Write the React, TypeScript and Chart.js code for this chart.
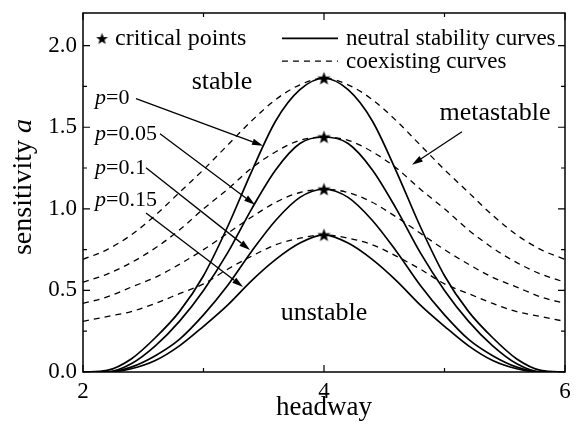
import React, { useEffect, useRef } from "react";
import { Chart, registerables } from "chart.js";

Chart.register(...registerables);

// ---------- data ----------
const headway = [2.0, 2.2, 2.4, 2.6, 2.8, 3.0, 3.2, 3.4, 3.6, 3.8, 4.0, 4.2, 4.4, 4.6, 4.8, 5.0, 5.2, 5.4, 5.6, 5.8, 6.0];

// neutral stability curves (solid)
const neutralP0 = [0, 0.01, 0.08, 0.21, 0.37, 0.59, 0.89, 1.23, 1.54, 1.73, 1.8, 1.73, 1.54, 1.23, 0.89, 0.59, 0.37, 0.21, 0.08, 0.01, 0];
const neutralP005 = [0, 0, 0.05, 0.16, 0.31, 0.5, 0.73, 1.0, 1.24, 1.4, 1.44, 1.4, 1.24, 1.0, 0.73, 0.5, 0.31, 0.16, 0.05, 0, 0];
const neutralP01 = [0, 0, 0.03, 0.1, 0.2, 0.35, 0.53, 0.74, 0.93, 1.07, 1.12, 1.07, 0.93, 0.74, 0.53, 0.35, 0.2, 0.1, 0.03, 0, 0];
const neutralP015 = [0, 0, 0.02, 0.07, 0.16, 0.28, 0.41, 0.56, 0.69, 0.79, 0.84, 0.79, 0.69, 0.56, 0.41, 0.28, 0.16, 0.07, 0.02, 0, 0];

// coexisting curves (dashed)
const coexistP0 = [0.69, 0.75, 0.84, 0.96, 1.1, 1.24, 1.39, 1.54, 1.67, 1.76, 1.8, 1.76, 1.67, 1.54, 1.39, 1.24, 1.1, 0.96, 0.84, 0.75, 0.69];
const coexistP005 = [0.55, 0.6, 0.67, 0.76, 0.87, 1.0, 1.12, 1.25, 1.35, 1.42, 1.44, 1.42, 1.35, 1.25, 1.12, 1.0, 0.87, 0.76, 0.67, 0.6, 0.55];
const coexistP01 = [0.42, 0.46, 0.52, 0.58, 0.66, 0.75, 0.85, 0.95, 1.04, 1.1, 1.12, 1.1, 1.04, 0.95, 0.85, 0.75, 0.66, 0.58, 0.52, 0.46, 0.42];
const coexistP015 = [0.31, 0.34, 0.37, 0.42, 0.48, 0.54, 0.63, 0.71, 0.78, 0.82, 0.84, 0.82, 0.78, 0.71, 0.63, 0.54, 0.48, 0.42, 0.37, 0.34, 0.31];

// critical points (stars)
const criticalH = [4, 4, 4, 4];
const criticalA = [1.8, 1.44, 1.12, 0.84];

// axis ticks
const xMajorTicks = [2, 4, 6];
const xMinorTicks = [3, 5];
const yMajorTicks = [0, 0.5, 1.0, 1.5, 2.0];
const yMinorTicks = [0.25, 0.75, 1.25, 1.75];
const yTickLabels = ["0.0", "0.5", "1.0", "1.5", "2.0"];
const xTickLabels = ["2", "4", "6"];

// p labels
const pLabels = ["0", "0.05", "0.1", "0.15"];

const FONT = "'Liberation Serif', 'Times New Roman', serif";

function makeStar(size: number, outer: number, inner: number) {
  const c = document.createElement("canvas");
  c.width = size;
  c.height = size;
  const g = c.getContext("2d")!;
  const cx = size / 2, cy = size / 2 + 0.5;
  g.beginPath();
  for (let i = 0; i < 10; i++) {
    const r = i % 2 === 0 ? outer : inner;
    const ang = -Math.PI / 2 + (i * Math.PI) / 5;
    const px = cx + r * Math.cos(ang);
    const py = cy + r * Math.sin(ang);
    if (i === 0) g.moveTo(px, py);
    else g.lineTo(px, py);
  }
  g.closePath();
  g.fillStyle = "#000";
  g.fill();
  return c;
}

function drawRich(ctx: CanvasRenderingContext2D, parts: [string, boolean][], x: number, y: number, size: number) {
  let cx = x;
  ctx.textBaseline = "middle";
  ctx.textAlign = "left";
  for (const [t, it] of parts) {
    ctx.font = `${it ? "italic " : ""}${size}px ${FONT}`;
    ctx.fillText(t, cx, y);
    cx += ctx.measureText(t).width;
  }
}

function arrow(ctx: CanvasRenderingContext2D, x1: number, y1: number, x2: number, y2: number) {
  const ang = Math.atan2(y2 - y1, x2 - x1);
  const len = 11, hw = 3.2;
  const bx = x2 - len * Math.cos(ang), by = y2 - len * Math.sin(ang);
  ctx.beginPath();
  ctx.moveTo(x1, y1);
  ctx.lineTo(bx, by);
  ctx.lineWidth = 1.3;
  ctx.stroke();
  ctx.beginPath();
  ctx.moveTo(x2, y2);
  ctx.lineTo(bx + hw * Math.sin(ang), by - hw * Math.cos(ang));
  ctx.lineTo(bx - hw * Math.sin(ang), by + hw * Math.cos(ang));
  ctx.closePath();
  ctx.fill();
}

export default function App() {
  const ref = useRef<HTMLCanvasElement>(null);

  useEffect(() => {
    const canvas = ref.current!;
    const star = makeStar(15, 7, 2.9);
    const legendStar = makeStar(13, 6.2, 2.6);

    const pts = (ys: number[]) => headway.map((h, i) => ({ x: h, y: ys[i] }));
    const solid = (ys: number[]) => ({
      type: "line" as const,
      data: pts(ys),
      borderColor: "#000",
      borderWidth: 1.7,
      pointRadius: 0,
      cubicInterpolationMode: "monotone" as const,
      fill: false,
    });
    const dashed = (ys: number[]) => ({
      type: "line" as const,
      data: pts(ys),
      borderColor: "#000",
      borderWidth: 1.3,
      borderDash: [6, 5],
      pointRadius: 0,
      cubicInterpolationMode: "monotone" as const,
      fill: false,
    });

    const annot = {
      id: "annot",
      afterDraw(chart: any) {
        const ctx: CanvasRenderingContext2D = chart.ctx;
        const xs = chart.scales.x, ys = chart.scales.y;
        const X = (v: number) => xs.getPixelForValue(v);
        const Y = (v: number) => ys.getPixelForValue(v);
        const { left, right, top, bottom } = chart.chartArea;
        ctx.save();
        ctx.strokeStyle = "#000";
        ctx.fillStyle = "#000";
        // frame
        ctx.lineWidth = 1.5;
        ctx.strokeRect(left, top, right - left, bottom - top);
        // ticks (inward, all four sides)
        ctx.lineWidth = 1.2;
        ctx.beginPath();
        const tx = (v: number, l: number) => {
          const p = X(v);
          ctx.moveTo(p, bottom); ctx.lineTo(p, bottom - l);
          ctx.moveTo(p, top); ctx.lineTo(p, top + l);
        };
        const ty = (v: number, l: number) => {
          const p = Y(v);
          ctx.moveTo(left, p); ctx.lineTo(left + l, p);
          ctx.moveTo(right, p); ctx.lineTo(right - l, p);
        };
        xMajorTicks.forEach((v) => tx(v, 7));
        xMinorTicks.forEach((v) => tx(v, 4));
        yMajorTicks.forEach((v) => ty(v, 7));
        yMinorTicks.forEach((v) => ty(v, 4));
        ctx.stroke();

        // tick labels
        ctx.font = `23px ${FONT}`;
        ctx.textAlign = "right";
        ctx.textBaseline = "middle";
        yMajorTicks.forEach((v, i) => ctx.fillText(yTickLabels[i], left - 6, Y(v)));
        ctx.textAlign = "center";
        ctx.textBaseline = "top";
        xMajorTicks.forEach((v, i) => ctx.fillText(xTickLabels[i], X(v), bottom + 8));

        // axis titles
        ctx.textAlign = "center";
        ctx.textBaseline = "middle";
        ctx.font = `27px ${FONT}`;
        ctx.fillText("headway", (left + right) / 2, 408);
        ctx.save();
        ctx.translate(24, 187);
        ctx.rotate(-Math.PI / 2);
        ctx.font = `28px ${FONT}`;
        const w1 = ctx.measureText("sensitivity ").width;
        ctx.font = `italic 28px ${FONT}`;
        const w2 = ctx.measureText("a").width;
        drawRich(ctx, [["sensitivity ", false], ["a", true]], -(w1 + w2) / 2, 0, 28);
        ctx.restore();

        // legend
        ctx.drawImage(legendStar, X(2.158) - 6.5, Y(2.04) - 7);
        drawRich(ctx, [["critical points", false]], X(2.266), Y(2.04), 24);
        ctx.lineWidth = 1.7;
        ctx.setLineDash([]);
        ctx.beginPath();
        ctx.moveTo(X(3.651), Y(2.045));
        ctx.lineTo(X(4.116), Y(2.045));
        ctx.stroke();
        ctx.lineWidth = 1.3;
        ctx.setLineDash([6, 5]);
        ctx.beginPath();
        ctx.moveTo(X(3.651), Y(1.905));
        ctx.lineTo(X(4.116), Y(1.905));
        ctx.stroke();
        ctx.setLineDash([]);
        drawRich(ctx, [["neutral stability curves", false]], X(4.183), Y(2.04), 23);
        drawRich(ctx, [["coexisting curves", false]], X(4.183), Y(1.9), 23);

        // region labels
        ctx.textAlign = "center";
        ctx.textBaseline = "middle";
        ctx.font = `26px ${FONT}`;
        ctx.fillText("stable", X(3.154), Y(1.779));
        ctx.fillText("metastable", X(5.419), Y(1.589));
        ctx.fillText("unstable", X(4.0), Y(0.362));

        // p labels
        const pLabelA = [1.675, 1.46, 1.25, 1.05];
        pLabels.forEach((t, i) => {
          drawRich(ctx, [["p", true], ["=" + t, false]], X(2.1), Y(pLabelA[i]), 22);
        });

        // arrows
        const arrows: number[][] = [
          [2.44, 1.675, 3.494, 1.387],
          [2.639, 1.46, 3.427, 1.025],
          [2.523, 1.252, 3.386, 0.748],
          [2.523, 0.975, 3.328, 0.521],
          [5.145, 1.472, 4.73, 1.27],
        ];
        arrows.forEach(([a, b, c, d]) => arrow(ctx, X(a), Y(b), X(c), Y(d)));
        ctx.restore();
      },
    };

    const chart = new Chart(canvas, {
      type: "line",
      data: {
        datasets: [
          solid(neutralP0),
          solid(neutralP005),
          solid(neutralP01),
          solid(neutralP015),
          dashed(coexistP0),
          dashed(coexistP005),
          dashed(coexistP01),
          dashed(coexistP015),
          {
            type: "scatter" as const,
            data: criticalH.map((h, i) => ({ x: h, y: criticalA[i] })),
            pointStyle: star as any,
            pointRadius: 7,
            borderColor: "#000",
            backgroundColor: "#000",
          } as any,
        ],
      },
      options: {
        responsive: false,
        animation: false,
        layout: { padding: { top: 13, right: 12, left: 0, bottom: 0 } },
        plugins: { legend: { display: false }, tooltip: { enabled: false } },
        scales: {
          x: {
            type: "linear",
            min: 2,
            max: 6,
            grid: { display: false, drawTicks: false },
            border: { display: false },
            ticks: { display: false, stepSize: 1 },
            afterFit: (s: any) => {
              s.height = 59;
            },
          },
          y: {
            type: "linear",
            min: 0,
            max: 2.2,
            grid: { display: false, drawTicks: false },
            border: { display: false },
            ticks: { display: false, stepSize: 0.5 },
            afterFit: (s: any) => {
              s.width = 83;
            },
          },
        },
      },
      plugins: [annot],
    } as any);

    return () => chart.destroy();
  }, []);

  return (
    <div style={{ position: "absolute", left: 0, top: 0, width: 577, height: 431, background: "#fff" }}>
      <canvas ref={ref} width={577} height={431} />
    </div>
  );
}
